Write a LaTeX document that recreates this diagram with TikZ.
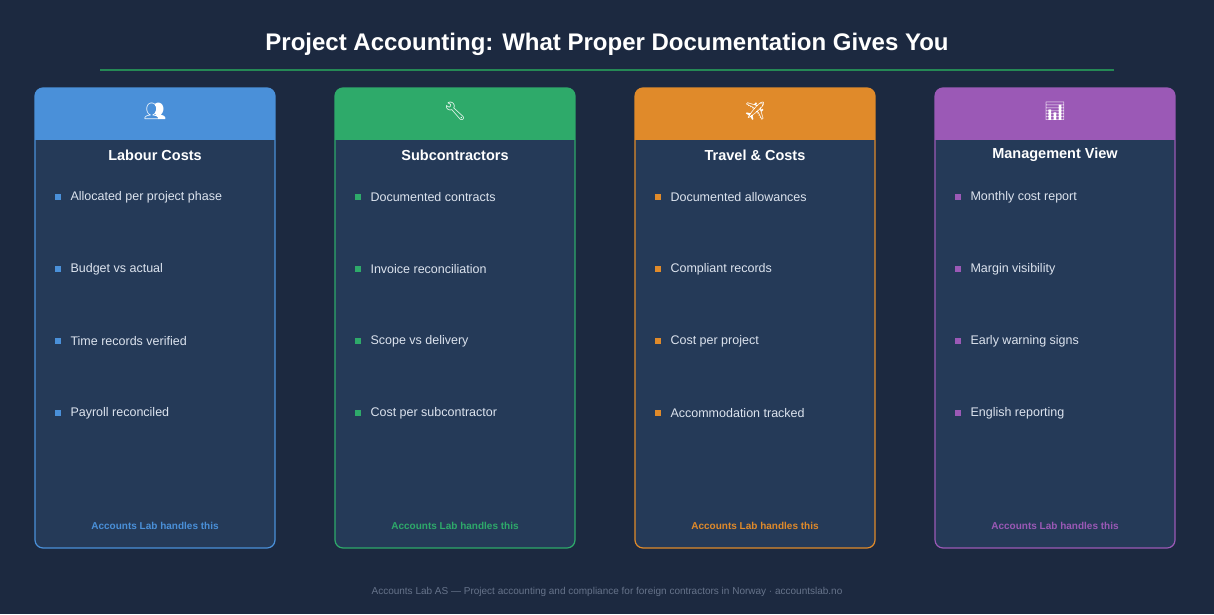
\documentclass[tikz,border=0pt]{standalone}
\usepackage{fontspec}
\setmainfont{Liberation Sans}
\newfontfamily\emojifont{Noto Emoji}
\usetikzlibrary{positioning}
\definecolor{bgcol}{HTML}{1C2940}
\definecolor{cardcol}{HTML}{253A58}
\definecolor{cblue}{HTML}{4A90D9}
\definecolor{cgreen}{HTML}{2EAA6A}
\definecolor{corange}{HTML}{E08A2A}
\definecolor{cpurple}{HTML}{9B59B6}
\definecolor{itemcol}{HTML}{DCE3EE}
\definecolor{footcol}{HTML}{66738A}
\tikzset{
  cardtitle/.style={text=white,font=\bfseries\fontsize{14.5}{17}\selectfont},
  item/.style={anchor=west,text=itemcol,font=\fontsize{12.5}{15}\selectfont},
  handles/.style={font=\bfseries\fontsize{10}{12}\selectfont},
  icon/.style={font=\emojifont\fontsize{18}{20}\selectfont}
}
\begin{document}
\begin{tikzpicture}[x=1pt,y=-1pt]
	\fill[bgcol] (0,0) rectangle (1214,614);
	\useasboundingbox (0,0) rectangle (1214,614);
	\node (title) at (607,44) [text=white,font=\bfseries\fontsize{24}{28}\selectfont] {Project Accounting: What Proper Documentation Gives You};
	\draw[cgreen!80!black,line width=1.2pt] (100,70) -- (1114,70);
	
	\foreach \x/\c/\ic/\t/\a/\b/\d/\e [count=\i] in {
		35/cblue/👥/Labour Costs/Allocated per project phase/Budget vs actual/Time records verified/Payroll reconciled,
		335/cgreen/🔧/Subcontractors/Documented contracts/Invoice reconciliation/Scope vs delivery/Cost per subcontractor,
		635/corange/✈/Travel \& Costs/Documented allowances/Compliant records/Cost per project/Accommodation tracked,
		935/cpurple/📊/Management View/Monthly cost report/Margin visibility/Early warning signs/English reporting}{
		\begin{scope}
			\clip[rounded corners=8pt] (\x,88) rectangle (\x+240,548);
			\fill[cardcol] (\x,88) rectangle (\x+240,548);
			\fill[\c] (\x,88) rectangle (\x+240,140);
		\end{scope}
		\draw[\c,line width=1.2pt,rounded corners=8pt] (\x,88) rectangle (\x+240,548);
		\node (icon\i) at (\x+120,111) [icon,text=white] {\ic};
		\node (head\i) at (\x+120,155) [cardtitle] {\t};
		\foreach \s/\y in {\a/197,\b/269,\d/341,\e/413}{
			\fill[\c] (\x+20,\y-3) rectangle (\x+26,\y+3);
			\node at (\x+32,\y) [item] {\s};
		}
		\node (foot\i) at (\x+120,526) [handles,text=\c] {Accounts Lab handles this};
	}
	
	\node (credit) at (607,592) [text=footcol,font=\fontsize{10}{12}\selectfont] {Accounts Lab AS — Project accounting and compliance for foreign contractors in Norway · accountslab.no};
\end{tikzpicture}
\end{document}
